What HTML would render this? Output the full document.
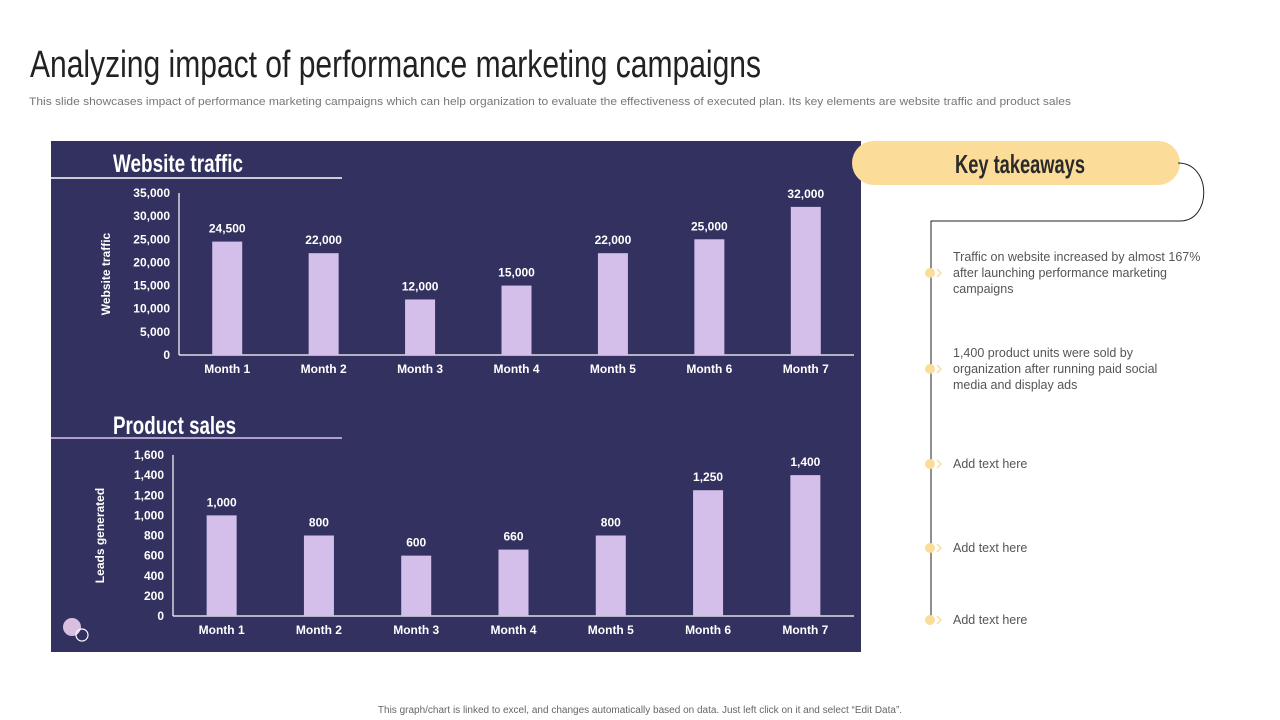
<!DOCTYPE html>
<html><head><meta charset="utf-8"><style>
body{margin:0;width:1280px;height:720px;background:#fff;overflow:hidden;font-family:"Liberation Sans",sans-serif}
svg{display:block}
.cond{font-family:"Liberation Sans Narrow","Liberation Sans",sans-serif}
</style></head><body>
<svg width="1280" height="720" xmlns="http://www.w3.org/2000/svg" id="root">
<text x="30" y="77" font-size="38" fill="#222" class="cond" transform="translate(30,0) scale(0.85,1) translate(-30,0)" textLength="860" lengthAdjust="spacingAndGlyphs">Analyzing impact of performance marketing campaigns</text>
<text x="29" y="105" font-size="11" fill="#777" textLength="1042" lengthAdjust="spacingAndGlyphs">This slide showcases impact of performance marketing campaigns which can help organization to evaluate the effectiveness of executed plan. Its key elements are website traffic and product sales</text>
<rect x="51" y="141" width="810" height="511" fill="#33315f"/>
<text x="113" y="172" font-size="25" font-weight="bold" fill="#fff" class="cond" textLength="130" lengthAdjust="spacingAndGlyphs">Website traffic</text>
<line x1="51" y1="178" x2="342" y2="178" stroke="#fff" stroke-width="1.5"/>
<text x="113" y="434" font-size="25" font-weight="bold" fill="#fff" class="cond" textLength="123" lengthAdjust="spacingAndGlyphs">Product sales</text>
<line x1="51" y1="438" x2="342" y2="438" stroke="#d8c6ee" stroke-width="1.5"/>
<g id="c1"></g><g id="c2"></g>
<circle cx="72" cy="627" r="9" fill="#d8bfe0"/>
<circle cx="82" cy="635" r="6" fill="none" stroke="#fff" stroke-width="1.2"/>
<rect x="852" y="141" width="328" height="44" rx="22" fill="#fbdc98"/>
<text x="1020" y="173" font-size="26" font-weight="bold" fill="#2a2a2a" class="cond" text-anchor="middle" textLength="130" lengthAdjust="spacingAndGlyphs">Key takeaways</text>
<path d="M1178 163 C1212 163 1212 221 1180 221 L931 221 L931 622" fill="none" stroke="#222" stroke-width="1"/>
<g id="tk" font-size="12.5" fill="#555"></g>
<text x="640" y="713" font-size="10" fill="#666" text-anchor="middle">This graph/chart is linked to excel, and changes automatically based on data. Just left click on it and select “Edit Data”.</text>
</svg>
<script>
const categories=["Month 1","Month 2","Month 3","Month 4","Month 5","Month 6","Month 7"];
const trafficValues=[24500,22000,12000,15000,22000,25000,32000];
const trafficTicks=[0,5000,10000,15000,20000,25000,30000,35000];
const salesValues=[1000,800,600,660,800,1250,1400];
const salesTicks=[0,200,400,600,800,1000,1200,1400,1600];
const takeaways=[["Traffic  on website increased by almost 167%","after launching performance  marketing","campaigns"],["1,400 product units were sold by","organization after running paid social","media and display ads"],["Add text here"],["Add text here"],["Add text here"]];
const NS="http://www.w3.org/2000/svg";
function mk(p,t,a,txt){const e=document.createElementNS(NS,t);for(const k in a)e.setAttribute(k,a[k]);if(txt!==undefined)e.textContent=txt;p.appendChild(e);return e;}
const fmt=v=>v.toLocaleString("en-US");
function chart(g,vals,ticks,x0,x1,yTop,yBot,max,yTitle,prefix){
  const y=v=>yBot-(v/max)*(yBot-yTop);
  const step=(x1-x0)/categories.length;
  const x=i=>x0+step*(i+0.5);
  mk(g,"line",{x1:x0,y1:yTop,x2:x0,y2:yBot,stroke:"#fff","stroke-width":1.2});
  mk(g,"line",{x1:x0,y1:yBot,x2:x1,y2:yBot,stroke:"#fff","stroke-width":1.2});
  ticks.forEach(t=>{const e=mk(g,"text",{x:x0-9,y:y(t)+4,"font-size":12,"font-weight":"bold",fill:"#fff","text-anchor":"end"},fmt(t));
    
    });
  const tt=mk(g,"text",{x:0,y:0,"font-size":12,"font-weight":"bold",fill:"#fff","text-anchor":"middle",transform:`translate(${x0-69},${(yTop+yBot)/2}) rotate(-90)`},yTitle);
  
  
  vals.forEach((v,i)=>{
    const b=mk(g,"rect",{x:x(i)-15,y:y(v),width:30,height:yBot-y(v),fill:"#d4bfea"});
    
    
    const l=mk(g,"text",{x:x(i),y:y(v)-9,"font-size":12,"font-weight":"bold",fill:"#fff","text-anchor":"middle"},fmt(v));
    
    
    const c=mk(g,"text",{x:x(i),y:yBot+18,"font-size":12,"font-weight":"bold",fill:"#fff","text-anchor":"middle"},categories[i]);
    
    
  });
}
chart(document.getElementById("c1"),trafficValues,trafficTicks,179,854,193,355,35000,"Website traffic","traffic");
chart(document.getElementById("c2"),salesValues,salesTicks,173,854,455,616,1600,"Leads generated","sales");
const tk=document.getElementById("tk");
const ys=[273,369,464,548,620];
takeaways.forEach((lines,i)=>{
  const cy=ys[i];
  const d=mk(tk,"circle",{cx:930,cy:cy,r:5,fill:"#fbdc98"});
  
  
  mk(tk,"path",{d:`M937 ${cy-4} L941 ${cy} L937 ${cy+4}`,fill:"none",stroke:"#fbdc98","stroke-width":1.5});
  const top=cy-(lines.length-1)*8+4;
  lines.forEach((s,j)=>{const t=mk(tk,"text",{x:953,y:top+j*16},s);
    
    });
});
</script>
</body></html>
